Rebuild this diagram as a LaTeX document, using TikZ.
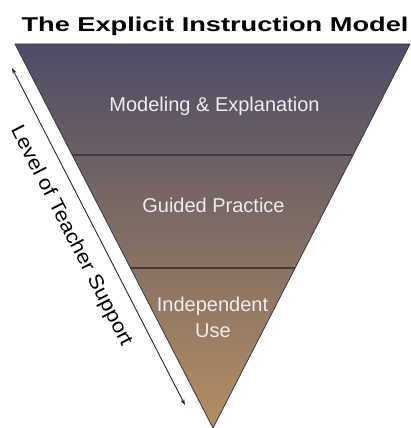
\documentclass[tikz,border=0pt]{standalone}
\usepackage{fontspec}
\setmainfont{Liberation Sans}
\usetikzlibrary{calc,arrows.meta}
\definecolor{topc}{RGB}{78,76,102}
\definecolor{midc}{RGB}{126,107,99}
\definecolor{botc}{RGB}{180,142,98}
\definecolor{edgec}{RGB}{58,56,70}
\definecolor{divc}{RGB}{72,58,50}
\definecolor{labc}{RGB}{238,236,236}
\definecolor{arrc}{RGB}{40,40,40}
\tikzset{
  lab/.style={text=labc, font=\fontsize{20}{24}\selectfont, anchor=base, inner sep=0pt},
  divider/.style={draw=divc, line width=2pt},
  supportarrow/.style={draw=arrc, line width=0.9pt, {Stealth[length=6pt,width=4pt]}-{Stealth[length=6pt,width=4pt]}}
}
\begin{document}
\begin{tikzpicture}[x=1pt,y=-1pt]
\useasboundingbox[fill=white] (0,0) rectangle (411,428);
\coordinate (TL) at (15,44);
\coordinate (TR) at (410,44);
\coordinate (AP) at (213,428);
\shade[top color=topc, middle color=midc, bottom color=botc] (TL) -- (TR) -- (AP) -- cycle;
\draw[edgec, line width=0.8pt, line join=miter] (TL) -- (TR) -- (AP) -- cycle;
\coordinate (L1) at ($(TL)!0.289!(AP)$);
\coordinate (R1) at ($(TR)!0.289!(AP)$);
\coordinate (L2) at ($(TL)!0.583!(AP)$);
\coordinate (R2) at ($(TR)!0.583!(AP)$);
\draw[divider] (L1) -- (R1);
\draw[divider] (L2) -- (R2);
\node[font=\bfseries\fontsize{20}{24}\selectfont, anchor=base, inner sep=0pt, text=black] (title) at (215,31.5) {\scalebox{1.36}[1]{The Explicit Instruction Model}};
\node[lab] (model) at (214.5,111.5) {Modeling \& Explanation};
\node[lab] (guided) at (213.5,212.5) {Guided Practice};
\node[lab] (indep) at (212.5,311.5) {Independent};
\node[lab] (use) at (213,337) {Use};
\coordinate (AS) at (12,68);
\coordinate (AE) at (185,405);
\draw[supportarrow] (AS) -- (AE);
\node[rotate=-62.8, font=\fontsize{20}{24}\selectfont, inner sep=0pt, text=black] (level) at (71,236) {\scalebox{1.1}[1]{Level of Teacher Support}};
\end{tikzpicture}
\end{document}
